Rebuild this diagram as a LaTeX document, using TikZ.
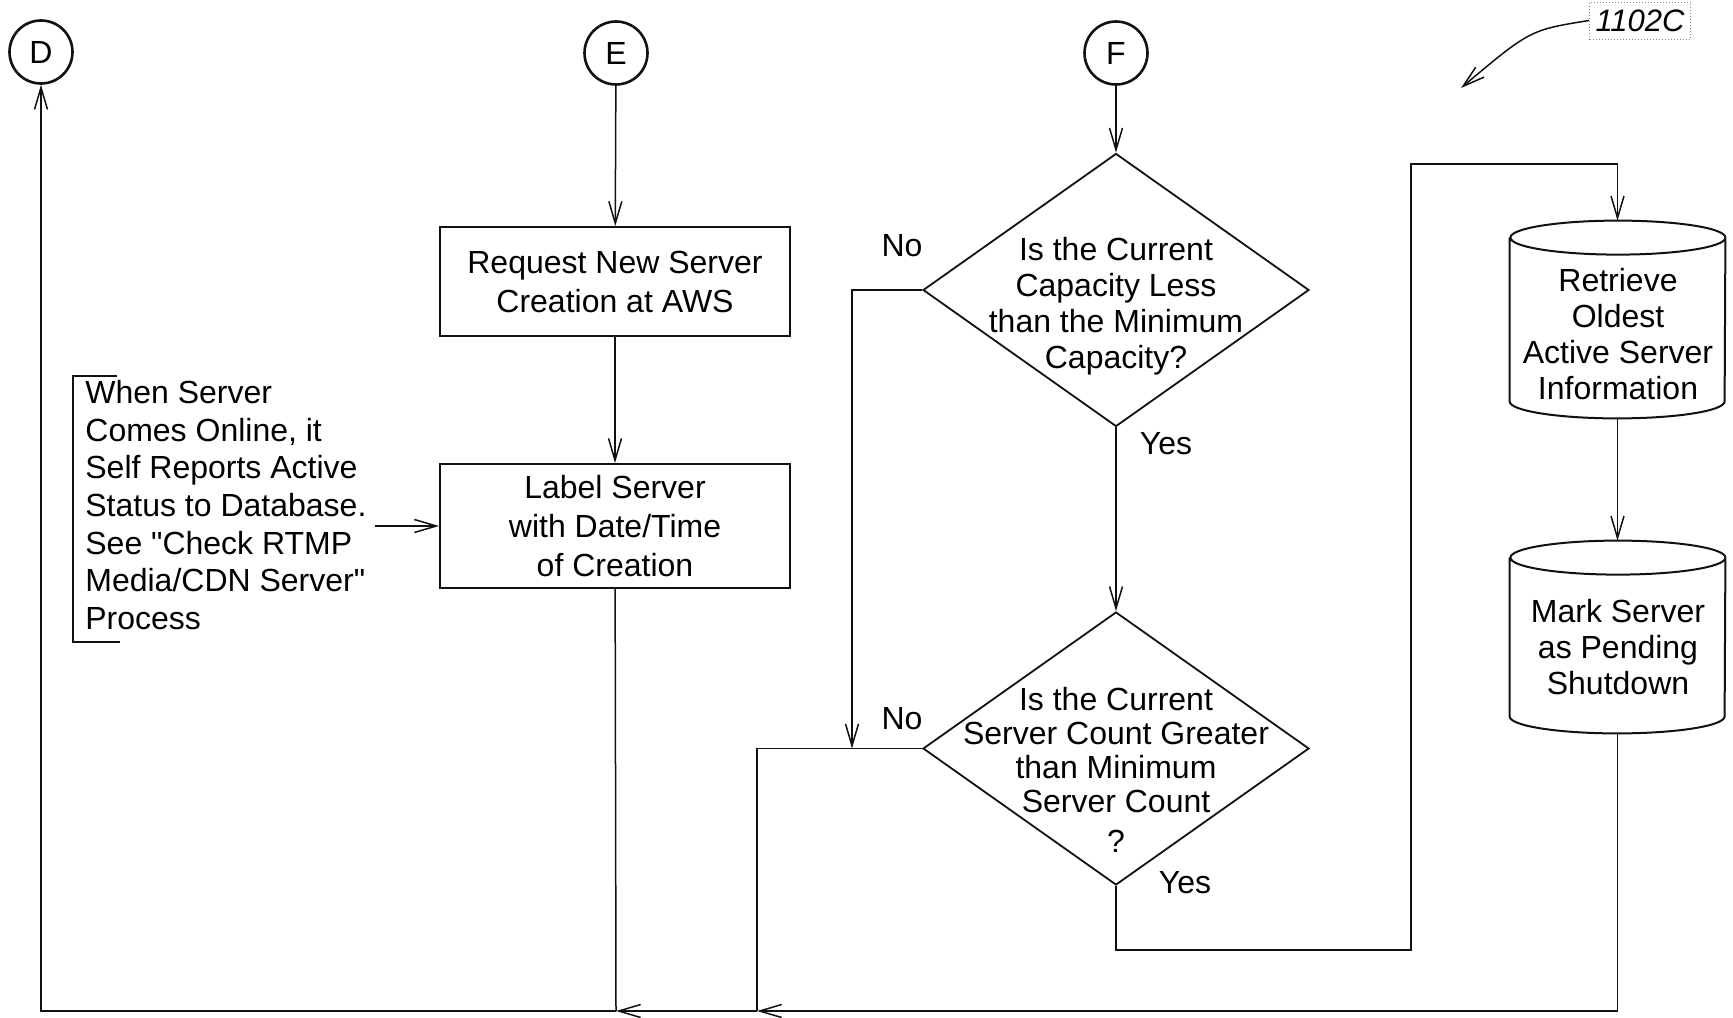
\documentclass[tikz,border=0pt]{standalone}
\usepackage{fontspec}
\setmainfont{Liberation Sans}
\usetikzlibrary{arrows.meta,positioning,shapes.geometric}
\definecolor{inkline}{HTML}{111111}
\definecolor{tagframe}{HTML}{8A8A8A}

\tikzset{
    flow/.style={draw=inkline, line width=0.75pt},
    arr/.style={flow, -{Straight Barb[length=11pt,width=6.5pt]}},
    connector/.style={circle, draw=inkline, line width=1.3pt, minimum size=31.5pt, inner sep=0pt, font=\fontsize{16pt}{19pt}\selectfont},
    process/.style={rectangle, draw=inkline, line width=1pt, minimum width=175pt, align=center, font=\fontsize{16pt}{19.5pt}\selectfont},
    decision/.style={diamond, draw=inkline, line width=0.9pt, minimum width=193pt, minimum height=136.5pt, inner sep=0pt},
    store/.style={rectangle, minimum width=107.5pt, inner sep=0pt},
    txt/.style={align=center, inner sep=0pt, font=\fontsize{16pt}{18pt}\selectfont},
}

\begin{document}
\begin{tikzpicture}[x=0.5pt, y=-0.5pt]
    \useasboundingbox (0,0) rectangle (1733,1017);

    % Off-page connectors
    \node[connector] (D) at (41,52) {D};
    \node[connector] (E) at (616,53) {E};
    \node[connector] (F) at (1116,53) {F};

    % Server creation branch
    \node[process, minimum height=54.5pt] (req) at (615,281.5) {Request New Server\\Creation at AWS};
    \node[process, minimum height=62pt] (lab) at (615,526) {Label Server\\with Date/Time\\of Creation};

    % Note with bracket
    \node[anchor=west, align=left, inner sep=4pt, font=\fontsize{16pt}{18.8pt}\selectfont] (note) at (77,505)
        {When Server\\Comes Online, it\\Self Reports Active\\Status to Database.\\See \textquotedbl Check RTMP\\Media/CDN Server\textquotedbl\\Process};
    \draw[flow] (117,376) -- (73,376) -- (73,642) -- (120,642);

    % Decisions
    \node[decision] (q1) at (1116,290) {};
    \node[txt] (q1text) at (1116,306) {Is the Current\\Capacity Less\\than the Minimum\\Capacity?};
    \node[decision] (q2) at (1116,748.5) {};
    \node[txt, font=\fontsize{16pt}{17pt}\selectfont] (q2text) at (1116,770) {Is the Current\\Server Count Greater\\than Minimum\\Server Count\\[3pt]?};

    % Database steps (cylinders)
    \node[store, minimum height=98.5pt] (get) at (1617.5,319.5) {};
    \node[txt] (gettext) at (1618,334) {Retrieve\\Oldest\\Active Server\\Information};
    \node[store, minimum height=96pt] (mark) at (1617.5,637) {};
    \node[txt] (marktext) at (1618,647) {Mark Server\\as Pending\\Shutdown};
    \foreach \c in {get,mark} {
        \draw[inkline, line width=1pt] ([yshift=-8.5pt]\c.north west) -- ([yshift=8.5pt]\c.south west)
            arc[start angle=180, end angle=360, x radius=53.75pt, y radius=8.5pt]
            -- ([yshift=-8.5pt]\c.north east)
            arc[start angle=0, end angle=180, x radius=53.75pt, y radius=8.5pt]
            arc[start angle=180, end angle=360, x radius=53.75pt, y radius=8.5pt];
    }

    % Branch labels
    \node[txt] at (902,246) {No};
    \node[txt] at (1166,444) {Yes};
    \node[txt] at (902,719) {No};
    \node[txt] at (1185,883) {Yes};

    % Routing points
    \coordinate (j1) at (616,1011);
    \coordinate (j2) at (757,1011);
    \coordinate (n1) at (852,748.5);
    \coordinate (y1) at (1411,950);
    \coordinate (y2) at (1411,164);

    % Connectors
    \draw[arr] (E) -- (req);
    \draw[arr] (req) -- (lab);
    \draw[arr] (note.east |- lab.west) -- (lab.west);
    \draw[arr] (F) -- (q1);
    \draw[arr] (q1) -- (q2);
    \draw[arr] (q1.west) -| (n1);
    \draw[flow] (q2.west) -| (j2);
    \draw[arr] (q2.south) |- (y1) -- (y2) -| (get.north);
    \draw[arr] (get) -- (mark);
    \draw[arr] (mark.south) |- (j2);
    \draw[arr] (j2) -- (j1);
    \draw[flow] (lab) -- (j1);
    \draw[arr] (j1) -| (D);

    % Figure tag
    \node[draw=tagframe, densely dotted, line width=0.5pt, minimum height=18.5pt, inner sep=3pt, font=\fontsize{15.5pt}{18pt}\itshape] (tag) at (1640,20.5) {1102C};
    \coordinate (tagtip) at (1461,88);
    \draw[arr] (tag.west) .. controls (1530,30) .. (tagtip);
\end{tikzpicture}
\end{document}
